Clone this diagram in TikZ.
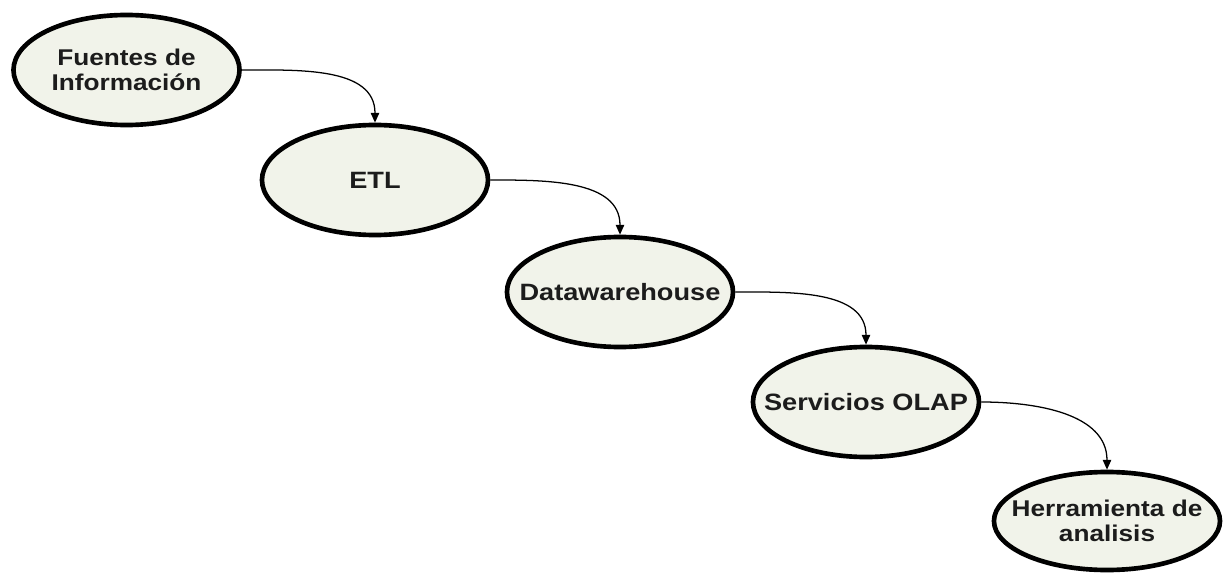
\documentclass[tikz,border=0pt]{standalone}
\usepackage{fontspec}
\setmainfont[FakeStretch=1.15]{Liberation Sans}
\usetikzlibrary{shapes.geometric,arrows.meta}

\definecolor{etapafill}{RGB}{241,243,234}
\definecolor{etapatext}{RGB}{28,28,28}

\tikzset{
  etapa/.style={ellipse, draw=black, line width=3.3pt, fill=etapafill,
    minimum width=5.65cm, minimum height=2.75cm, inner xsep=-1cm, inner ysep=0pt,
    align=center, text=etapatext, font=\bfseries\fontsize{16.8}{17.5}\selectfont},
  doslineas/.style={font=\bfseries\fontsize{16.2}{17.5}\selectfont},
  flujo/.style={-{Triangle[length=7pt,width=6pt]}, line width=0.9pt, out=0, in=90}
}

\begin{document}
\begin{tikzpicture}[x=0.025cm, y=-0.025cm]
  \useasboundingbox (0,0) rectangle (1226,578);
  % etapas del proceso
  \node[etapa, doslineas] (fuentes) at (126.5,70) {Fuentes de\\Informaci\'on};
  \node[etapa] (etl) at (375,180) {ETL};
  \node[etapa] (dw) at (620,292) {Datawarehouse};
  \node[etapa] (olap) at (866,402) {Servicios OLAP};
  \node[etapa, doslineas, minimum height=2.45cm] (herramienta) at (1107,521) {Herramienta de\\analisis};
  % conexiones
  \draw[flujo] (fuentes.east) to (etl.north);
  \draw[flujo] (etl.east) to (dw.north);
  \draw[flujo] (dw.east) to (olap.north);
  \draw[flujo] (olap.east) to (herramienta.north);
\end{tikzpicture}
\end{document}
